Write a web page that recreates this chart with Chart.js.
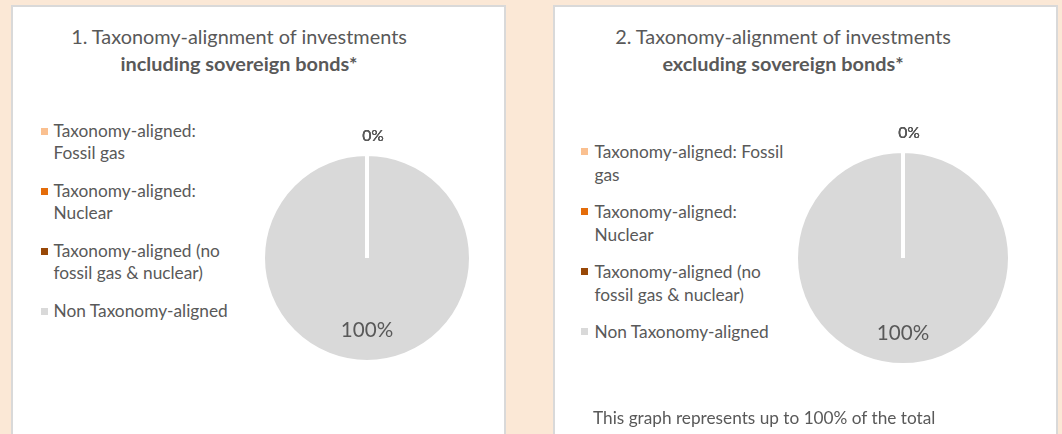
<!DOCTYPE html>
<html>
<head>
<meta charset="utf-8">
<script src="https://cdn.jsdelivr.net/npm/chart.js@4.4.1/dist/chart.umd.min.js"></script>
<style>
  html, body { margin:0; padding:0; width:1062px; height:434px; overflow:hidden; background:#FBE8D6; }
  body { position:relative; font-family: Lato, "Liberation Sans", sans-serif; color:#595959; }
  .panel { position:absolute; top:5px; height:450px; background:#fff; border:2px solid #D9D9D9; box-sizing:border-box; }
  .title { position:absolute; width:500px; text-align:center; line-height:26.6px; white-space:nowrap; }
  .title b { font-weight:700; }
  .legend { position:absolute; display:flex; flex-direction:column; }
  .item { position:relative; }
  .mk { position:absolute; left:0; width:7px; height:7px; }
  .tx { display:block; }
  .foot { position:absolute; white-space:nowrap; line-height:20px; }
  .pie { position:absolute; width:300px; height:300px; }
</style>
</head>
<body>
<div class="panel" style="left:11px; width:495px;"></div>
<div class="panel" style="left:553px; width:505px;"></div>

<div class="title" id="t1" style="left:-11px; top:23.4px;"></div>
<div class="title" id="t2" style="left:533px; top:23.4px;"></div>

<div class="legend" id="leg1" style="left:41px; top:120px;"></div>
<div class="legend" id="leg2" style="left:581px; top:140px;"></div>

<div class="pie" style="left:217px; top:108px;"><canvas id="c1" width="300" height="300"></canvas></div>
<div class="pie" style="left:753px; top:108px;"><canvas id="c2" width="300" height="300"></canvas></div>

<div class="foot" id="foot" style="left:593px; top:408px;"></div>

<script>
// ---- data ----
const categories = [
  'Taxonomy-aligned: Fossil gas',
  'Taxonomy-aligned: Nuclear',
  'Taxonomy-aligned (no fossil gas & nuclear)',
  'Non Taxonomy-aligned'
];
const valuesIncludingSovereign = [0, 0, 0, 100];
const valuesExcludingSovereign = [0, 0, 0, 100];
const titleLine1 = ['1. Taxonomy-alignment of investments', '2. Taxonomy-alignment of investments'];
const titleLine2 = ['including sovereign bonds*', 'excluding sovereign bonds*'];
const footnoteText = 'This graph represents up to 100% of the total';

// ---- styles ----
const sliceColors = ['#FAC090', '#E46C0A', '#984807', '#D9D9D9'];
const FAMILY = 'Lato, "Liberation Sans", sans-serif';
const TEXT = '#595959';

const mctx = document.createElement('canvas').getContext('2d');
function fitSize(text, weight, target) {
  mctx.font = weight + ' 100px ' + FAMILY;
  return 100 * target / mctx.measureText(text).width;
}
const titleSize = fitSize(titleLine1[0], '400', 337);
const legendSize = fitSize('Non Taxonomy-aligned', '400', 175);
const footSize = fitSize(footnoteText, '400', 343);
const smallLblSize = fitSize('0%', '400', 21.7);
const bigLblSize = fitSize('100%', '400', 52.4);

// titles
[['t1', 0], ['t2', 1]].forEach(([id, i]) => {
  const el = document.getElementById(id);
  el.style.fontSize = titleSize + 'px';
  el.innerHTML = '';
  const l1 = document.createElement('div'); l1.textContent = titleLine1[i];
  const l2 = document.createElement('div'); const b = document.createElement('b'); b.textContent = titleLine2[i]; l2.appendChild(b);
  el.appendChild(l1); el.appendChild(l2);
});

// legends
function buildLegend(id, textWidth, lineH, gap, pad) {
  const leg = document.getElementById(id);
  leg.style.gap = gap + 'px';
  categories.forEach((c, i) => {
    const it = document.createElement('div');
    it.className = 'item';
    it.style.paddingLeft = pad + 'px';
    const mk = document.createElement('span');
    mk.className = 'mk';
    mk.style.background = sliceColors[i];
    mk.style.top = ((lineH - 7) / 2) + 'px';
    const tx = document.createElement('span');
    tx.className = 'tx';
    tx.textContent = c;
    tx.style.width = textWidth + 'px';
    tx.style.fontSize = legendSize + 'px';
    tx.style.lineHeight = lineH + 'px';
    it.appendChild(mk); it.appendChild(tx);
    leg.appendChild(it);
  });
}
buildLegend('leg1', 180, 22, 16, 12.5);
buildLegend('leg2', 197, 23.3, 13.4, 13.5);

const foot = document.getElementById('foot');
foot.textContent = footnoteText;
foot.style.fontSize = footSize + 'px';

// percentage labels plugin
const pctLabels = {
  id: 'pctLabels',
  afterDatasetsDraw(chart, args, opts) {
    const ctx = chart.ctx;
    const ds = chart.data.datasets[0];
    const meta = chart.getDatasetMeta(0);
    const total = ds.data.reduce((a, b) => a + b, 0);
    ctx.save();
    ctx.fillStyle = TEXT;
    ctx.textAlign = 'center';
    ctx.textBaseline = 'middle';
    meta.data.forEach((arc, i) => {
      const v = ds.data[i];
      const p = arc.getProps(['x', 'y', 'startAngle', 'endAngle', 'outerRadius'], true);
      const mid = (p.startAngle + p.endAngle) / 2;
      let d, size, dx = 0;
      if (v === 0) { d = p.outerRadius + 18; size = smallLblSize; dx = 6; }
      else { d = p.outerRadius * 0.70; size = bigLblSize; }
      ctx.font = '400 ' + size + 'px ' + FAMILY;
      ctx.fillText(Math.round(v / total * 100) + '%', p.x + Math.cos(mid) * d + dx, p.y + Math.sin(mid) * d);
    });
    ctx.restore();
  }
};

function makePie(id, values, radius) {
  new Chart(document.getElementById(id), {
    type: 'pie',
    data: {
      labels: categories,
      datasets: [{
        data: values,
        backgroundColor: sliceColors,
        borderColor: '#FFFFFF',
        borderWidth: 4
      }]
    },
    options: {
      responsive: false,
      animation: false,
      radius: radius,
      layout: { padding: 0 },
      plugins: {
        legend: { display: false },
        tooltip: { enabled: false },
        title: { display: false }
      }
    },
    plugins: [pctLabels]
  });
}
makePie('c1', valuesIncludingSovereign, 104);
makePie('c2', valuesExcludingSovereign, 107);
</script>
</body>
</html>
